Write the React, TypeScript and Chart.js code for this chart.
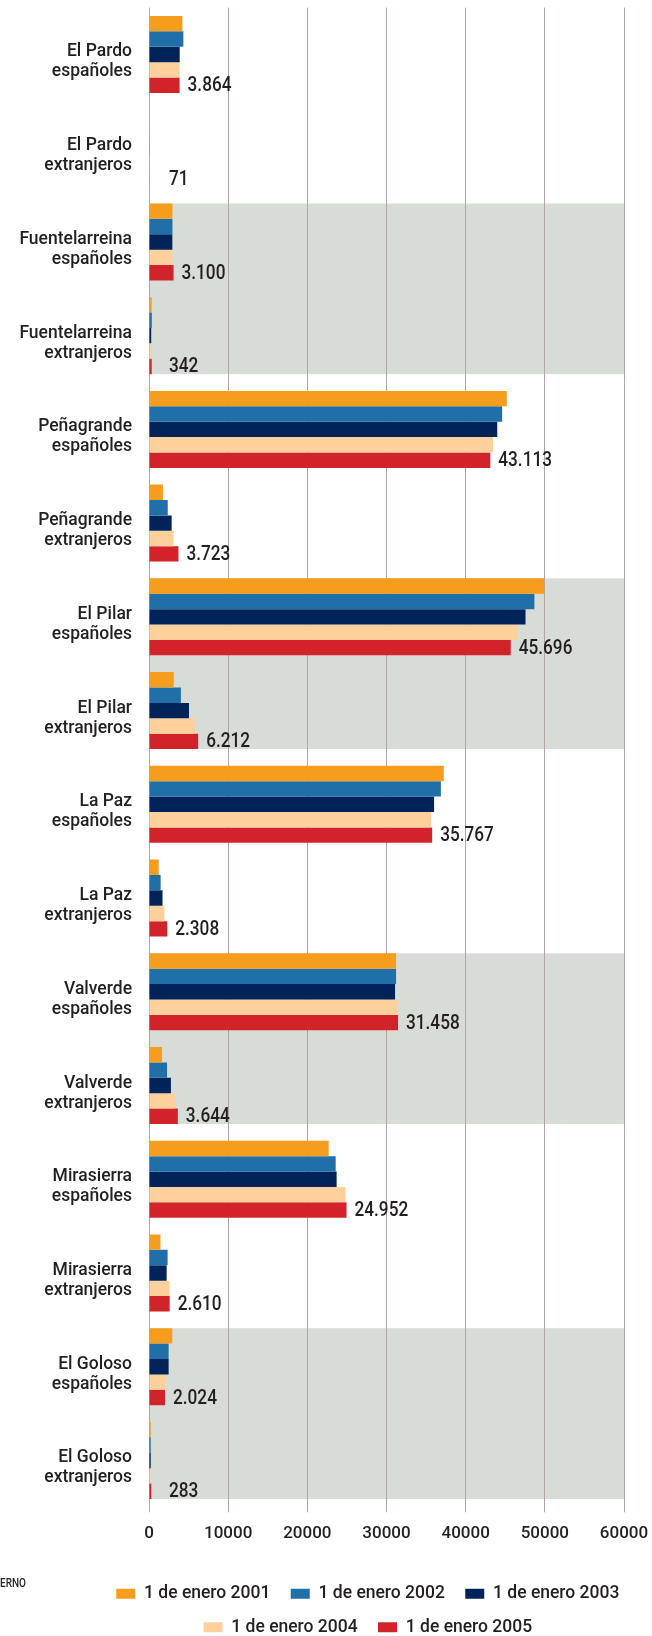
import React, { useEffect, useRef } from 'react';
import { Chart, registerables } from 'chart.js';

Chart.register(...registerables);

const categories: string[][] = [
  ['El Pardo', 'españoles'],
  ['El Pardo', 'extranjeros'],
  ['Fuentelarreina', 'españoles'],
  ['Fuentelarreina', 'extranjeros'],
  ['Peñagrande', 'españoles'],
  ['Peñagrande', 'extranjeros'],
  ['El Pilar', 'españoles'],
  ['El Pilar', 'extranjeros'],
  ['La Paz', 'españoles'],
  ['La Paz', 'extranjeros'],
  ['Valverde', 'españoles'],
  ['Valverde', 'extranjeros'],
  ['Mirasierra', 'españoles'],
  ['Mirasierra', 'extranjeros'],
  ['El Goloso', 'españoles'],
  ['El Goloso', 'extranjeros'],
];

const seriesNames = [
  '1 de enero 2001',
  '1 de enero 2002',
  '1 de enero 2003',
  '1 de enero 2004',
  '1 de enero 2005',
];

const enero2001 = [4220, 65, 2960, 330, 45200, 1760, 49930, 3130, 37240, 1230, 31210, 1650, 22700, 1450, 2940, 220];
const enero2002 = [4340, 68, 2960, 350, 44610, 2370, 48680, 4030, 36870, 1470, 31210, 2280, 23580, 2350, 2480, 220];
const enero2003 = [3880, 70, 2950, 280, 43990, 2860, 47560, 5050, 36010, 1710, 31080, 2770, 23700, 2230, 2480, 220];
const enero2004 = [3870, 70, 2950, 330, 43450, 3110, 46570, 5790, 35640, 1950, 31330, 3270, 24830, 2610, 2180, 200];
const enero2005 = [3864, 71, 3100, 342, 43113, 3723, 45696, 6212, 35767, 2308, 31458, 3644, 24952, 2610, 2024, 283];

const seriesColors = ['#f79d1e', '#1f6fa8', '#00245a', '#fdd09c', '#d2232a'];

const xTickMin = 0;
const xTickMax = 60000;
const xTickStep = 10000;

// first category of each shaded pair of rows
const shadedPairs = [2, 6, 10, 14];

const footNote = 'ERNO';

const TEXT = '#231f20';
const SANS = 'Roboto, "Liberation Sans", Arial, sans-serif';

const fmt = (n: number) => String(n).replace(/\B(?=(\d{3})+(?!\d))/g, '.');

function condensedText(ctx: CanvasRenderingContext2D, text: string, x: number, y: number, sx: number) {
  ctx.save();
  ctx.translate(x, y);
  ctx.scale(sx, 1);
  ctx.fillText(text, 0, 0);
  ctx.restore();
}

const bandPlugin = {
  id: 'bands',
  beforeDraw(chart: any) {
    const { ctx, chartArea } = chart;
    const m0 = chart.getDatasetMeta(0);
    const m4 = chart.getDatasetMeta(4);
    ctx.save();
    ctx.fillStyle = '#d8dcd6';
    for (const i of shadedPairs) {
      const a = m0.data[i];
      const b = m4.data[i + 1];
      if (!a || !b) continue;
      const top = a.y - a.height / 2;
      const bottom = b.y + b.height / 2;
      ctx.fillRect(chartArea.left, top, chartArea.right - chartArea.left, bottom - top);
    }
    ctx.restore();
  },
};

const textPlugin = {
  id: 'texts',
  afterDraw(chart: any) {
    const { ctx, chartArea } = chart;
    const yScale = chart.scales.y;
    ctx.save();
    ctx.fillStyle = TEXT;
    // category labels
    ctx.font = '500 17.5px ' + SANS;
    ctx.textAlign = 'right';
    ctx.textBaseline = 'alphabetic';
    categories.forEach((lines, i) => {
      const py = yScale.getPixelForValue(i);
      ctx.fillText(lines[0], chartArea.left - 17, py + 2);
      ctx.fillText(lines[1], chartArea.left - 17, py + 22);
    });
    // value labels for 2005
    const meta = chart.getDatasetMeta(4);
    ctx.font = '500 20px ' + SANS;
    ctx.textAlign = 'left';
    ctx.textBaseline = 'middle';
    meta.data.forEach((bar: any, i: number) => {
      const x = Math.max(bar.x + 8, chartArea.left + 20);
      condensedText(ctx, fmt(enero2005[i]), x, bar.y + 1, 0.86);
    });
    // clipped note at left
    ctx.font = '500 12.5px ' + SANS;
    ctx.textBaseline = 'middle';
    condensedText(ctx, footNote, 0, 1584, 0.8);
    ctx.restore();
  },
};

export default function App() {
  const ref = useRef<HTMLCanvasElement>(null);
  useEffect(() => {
    document.body.style.margin = '0';
    const series = [enero2001, enero2002, enero2003, enero2004, enero2005];
    const chart = new Chart(ref.current as HTMLCanvasElement, {
      type: 'bar',
      data: {
        labels: categories.map((c) => c.join(' ')),
        datasets: series.map((d, k) => ({
          label: seriesNames[k],
          data: d,
          backgroundColor: seriesColors[k],
          borderWidth: 0,
          categoryPercentage: 0.8215,
          barPercentage: 1,
        })),
      },
      options: {
        indexAxis: 'y',
        responsive: false,
        animation: false,
        layout: { padding: { top: 7.6, left: 88, right: 0, bottom: 0 } },
        scales: {
          x: {
            min: xTickMin,
            max: xTickMax,
            ticks: {
              stepSize: xTickStep,
              callback: (v: any) => String(v),
              font: { family: SANS, size: 17, weight: '500' },
              color: TEXT,
              padding: 11,
              maxRotation: 0,
              autoSkip: false,
            },
            grid: { color: '#b0a6a6', lineWidth: 1, tickLength: 5, drawTicks: true },
            border: { display: false },
            afterFit: (s: any) => {
              s.height = 61.7;
              s.paddingLeft = 0;
              s.paddingRight = 28;
            },
          },
          y: {
            ticks: { display: false },
            grid: { display: false },
            border: { display: false },
            afterFit: (s: any) => {
              s.width = 61;
              s.paddingTop = 0;
              s.paddingBottom = 0;
            },
          },
        },
        plugins: {
          legend: {
            position: 'bottom',
            labels: {
              boxWidth: 19,
              boxHeight: 10,
              padding: 16,
              color: TEXT,
              font: { family: SANS, size: 17.5, weight: '500' },
              generateLabels: (ch: any) =>
                (Chart as any).defaults.plugins.legend.labels
                  .generateLabels(ch)
                  .map((l: any) => ({ ...l, text: l.text + ' ' })),
            },
          },
          tooltip: { enabled: false },
        },
      },
      plugins: [bandPlugin, textPlugin],
    } as any);
    return () => chart.destroy();
  }, []);
  return (
    <div style={{ width: 652, height: 1636, overflow: 'hidden', position: 'relative' }}>
      <canvas ref={ref} width={652} height={1646} style={{ display: 'block' }} />
    </div>
  );
}
